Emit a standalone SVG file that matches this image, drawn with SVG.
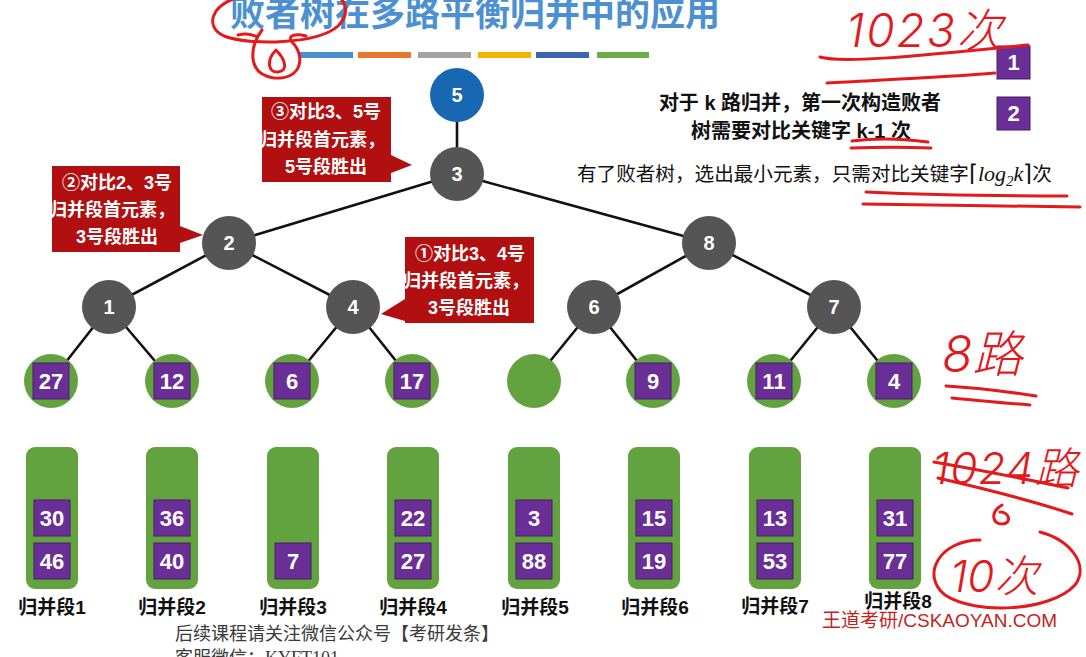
<svg xmlns="http://www.w3.org/2000/svg" width="1086" height="657" viewBox="0 0 1086 657">
<style>
.cj{font-family:"Liberation Sans","Noto Sans CJK SC",sans-serif;}
.num{font-family:"Liberation Sans",Arial,sans-serif;font-weight:bold;fill:#fff;text-anchor:middle;}
.inner{fill:#555555;}
.leaf{fill:#62a23f;}
.box{fill:#6a2e97;stroke:#4a1a6c;stroke-width:1;}
.seg{fill:#62a23f;}
.call{fill:#b10f10;}
.ct{font-family:"Liberation Sans","Noto Sans CJK SC",sans-serif;font-weight:bold;font-size:18px;fill:#fff;text-anchor:middle;}
.lbl{font-family:"Liberation Sans","Noto Sans CJK SC",sans-serif;font-weight:bold;font-size:19px;fill:#111;text-anchor:middle;}
.edge{stroke:#111;stroke-width:2.6;fill:none;}
.ink{stroke:#e3191c;stroke-width:3;fill:none;stroke-linecap:round;stroke-linejoin:round;}
.hand{font-family:"Inter","DejaVu Sans","Noto Sans CJK SC",sans-serif;font-weight:300;fill:#e3191c;font-style:italic;}
</style>
<rect width="1086" height="657" fill="#ffffff"/>

<!-- title -->
<text x="230" y="26" class="cj" font-size="35" font-weight="bold" fill="#4d90d2">败者树在多路平衡归并中的应用</text>
<g id="title-bars">
<rect x="300" y="52" width="53" height="6" fill="#4a8fd1"/>
<rect x="358" y="52" width="53" height="6" fill="#e8782b"/>
<rect x="418" y="52" width="53" height="6" fill="#a3a3a3"/>
<rect x="478" y="52" width="53" height="6" fill="#f4b400"/>
<rect x="536" y="52" width="53" height="6" fill="#3f64b4"/>
<rect x="597" y="52" width="52" height="6" fill="#6aae48"/>
</g>

<!-- connectors -->
<g id="connectors" class="edge">
<line x1="457" y1="95" x2="457" y2="174"/>
<line x1="457" y1="174" x2="229" y2="243"/>
<line x1="457" y1="174" x2="709" y2="243"/>
<line x1="229" y1="243" x2="109" y2="307"/>
<line x1="229" y1="243" x2="353" y2="307"/>
<line x1="709" y1="243" x2="594" y2="307"/>
<line x1="709" y1="243" x2="834" y2="307"/>
<line x1="109" y1="307" x2="51" y2="381"/>
<line x1="109" y1="307" x2="172" y2="381"/>
<line x1="353" y1="307" x2="292" y2="381"/>
<line x1="353" y1="307" x2="412" y2="381"/>
<line x1="594" y1="307" x2="534" y2="381"/>
<line x1="594" y1="307" x2="653" y2="381"/>
<line x1="834" y1="307" x2="774" y2="381"/>
<line x1="834" y1="307" x2="894" y2="381"/>
</g>

<!-- tree nodes -->
<g id="node-root5"><circle cx="457" cy="95" r="27" fill="#1767b2"/><text x="457" y="102" class="num" font-size="20">5</text></g>
<g id="node-3"><circle cx="457" cy="174" r="27" class="inner"/><text x="457" y="181" class="num" font-size="20">3</text></g>
<g id="node-2"><circle cx="229" cy="243" r="27" class="inner"/><text x="229" y="250" class="num" font-size="20">2</text></g>
<g id="node-8"><circle cx="709" cy="243" r="27" class="inner"/><text x="709" y="250" class="num" font-size="20">8</text></g>
<g id="node-1"><circle cx="109" cy="307" r="27" class="inner"/><text x="109" y="314" class="num" font-size="20">1</text></g>
<g id="node-4"><circle cx="353" cy="307" r="27" class="inner"/><text x="353" y="314" class="num" font-size="20">4</text></g>
<g id="node-6"><circle cx="594" cy="307" r="27" class="inner"/><text x="594" y="314" class="num" font-size="20">6</text></g>
<g id="node-7"><circle cx="834" cy="307" r="27" class="inner"/><text x="834" y="314" class="num" font-size="20">7</text></g>

<!-- leaves -->
<g id="leaf-1"><circle cx="51" cy="381" r="27" class="leaf"/><rect x="33" y="363" width="36" height="36" class="box"/><text x="51" y="389" class="num" font-size="22">27</text></g>
<g id="leaf-2"><circle cx="172" cy="381" r="27" class="leaf"/><rect x="154" y="363" width="36" height="36" class="box"/><text x="172" y="389" class="num" font-size="22">12</text></g>
<g id="leaf-3"><circle cx="292" cy="381" r="27" class="leaf"/><rect x="274" y="363" width="36" height="36" class="box"/><text x="292" y="389" class="num" font-size="22">6</text></g>
<g id="leaf-4"><circle cx="412" cy="381" r="27" class="leaf"/><rect x="394" y="363" width="36" height="36" class="box"/><text x="412" y="389" class="num" font-size="22">17</text></g>
<g id="leaf-5"><circle cx="534" cy="381" r="27" class="leaf"/></g>
<g id="leaf-6"><circle cx="653" cy="381" r="27" class="leaf"/><rect x="635" y="363" width="36" height="36" class="box"/><text x="653" y="389" class="num" font-size="22">9</text></g>
<g id="leaf-7"><circle cx="774" cy="381" r="27" class="leaf"/><rect x="756" y="363" width="36" height="36" class="box"/><text x="774" y="389" class="num" font-size="22">11</text></g>
<g id="leaf-8"><circle cx="894" cy="381" r="27" class="leaf"/><rect x="876" y="363" width="36" height="36" class="box"/><text x="894" y="389" class="num" font-size="22">4</text></g>

<!-- merge segments -->
<g id="seg-1"><rect x="26" y="447" width="52" height="142" rx="9" class="seg"/>
<rect x="34" y="500" width="36" height="36" class="box"/><text x="52" y="526" class="num" font-size="22">30</text>
<rect x="34" y="543" width="36" height="36" class="box"/><text x="52" y="569" class="num" font-size="22">46</text>
<text x="52" y="614" class="lbl">归并段1</text></g>
<g id="seg-2"><rect x="146" y="447" width="52" height="142" rx="9" class="seg"/>
<rect x="154" y="500" width="36" height="36" class="box"/><text x="172" y="526" class="num" font-size="22">36</text>
<rect x="154" y="543" width="36" height="36" class="box"/><text x="172" y="569" class="num" font-size="22">40</text>
<text x="172" y="614" class="lbl">归并段2</text></g>
<g id="seg-3"><rect x="267" y="447" width="52" height="142" rx="9" class="seg"/>
<rect x="275" y="543" width="36" height="36" class="box"/><text x="293" y="569" class="num" font-size="22">7</text>
<text x="293" y="614" class="lbl">归并段3</text></g>
<g id="seg-4"><rect x="387" y="447" width="52" height="142" rx="9" class="seg"/>
<rect x="395" y="500" width="36" height="36" class="box"/><text x="413" y="526" class="num" font-size="22">22</text>
<rect x="395" y="543" width="36" height="36" class="box"/><text x="413" y="569" class="num" font-size="22">27</text>
<text x="413" y="614" class="lbl">归并段4</text></g>
<g id="seg-5"><rect x="508" y="447" width="52" height="142" rx="9" class="seg"/>
<rect x="516" y="500" width="36" height="36" class="box"/><text x="534" y="526" class="num" font-size="22">3</text>
<rect x="516" y="543" width="36" height="36" class="box"/><text x="534" y="569" class="num" font-size="22">88</text>
<text x="535" y="614" class="lbl">归并段5</text></g>
<g id="seg-6"><rect x="628" y="447" width="52" height="142" rx="9" class="seg"/>
<rect x="636" y="500" width="36" height="36" class="box"/><text x="654" y="526" class="num" font-size="22">15</text>
<rect x="636" y="543" width="36" height="36" class="box"/><text x="654" y="569" class="num" font-size="22">19</text>
<text x="655" y="614" class="lbl">归并段6</text></g>
<g id="seg-7"><rect x="749" y="447" width="52" height="142" rx="9" class="seg"/>
<rect x="757" y="500" width="36" height="36" class="box"/><text x="775" y="526" class="num" font-size="22">13</text>
<rect x="757" y="543" width="36" height="36" class="box"/><text x="775" y="569" class="num" font-size="22">53</text>
<text x="775" y="613" class="lbl">归并段7</text></g>
<g id="seg-8"><rect x="869" y="447" width="52" height="142" rx="9" class="seg"/>
<rect x="877" y="500" width="36" height="36" class="box"/><text x="895" y="526" class="num" font-size="22">31</text>
<rect x="877" y="543" width="36" height="36" class="box"/><text x="895" y="569" class="num" font-size="22">77</text>
<text x="898" y="608" class="lbl">归并段8</text></g>

<!-- callouts -->
<g id="callout-3">
<path d="M262 97 H391 V155 L412 165 L391 173 V182 H262 Z" class="call"/>
<text x="326" y="118" class="ct">③对比3、5号</text>
<text x="322" y="146" class="ct">归并段首元素，</text>
<text x="326" y="173" class="ct">5号段胜出</text>
</g>
<g id="callout-2">
<path d="M52 166 H180 V226 L203 235 L180 243 V252 H52 Z" class="call"/>
<text x="117" y="189" class="ct">②对比2、3号</text>
<text x="112" y="216" class="ct">归并段首元素，</text>
<text x="117" y="243" class="ct">3号段胜出</text>
</g>
<g id="callout-1">
<path d="M405 237 H534 V323 H405 V321 L381 314 L405 299 Z" class="call"/>
<text x="470" y="260" class="ct">①对比3、4号</text>
<text x="466" y="287" class="ct">归并段首元素，</text>
<text x="469" y="314" class="ct">3号段胜出</text>
</g>

<!-- right-side notes -->
<g id="notes" class="cj" font-weight="bold" fill="#111">
<text x="800" y="110" font-size="20" text-anchor="middle">对于 k 路归并，第一次构造败者</text>
<text x="801" y="138" font-size="20" text-anchor="middle">树需要对比关键字 k-1 次</text>
<text x="577" y="181" font-size="19.6" font-weight="normal">有了败者树，选出最小元素，只需对比关键字<tspan font-family="Liberation Serif,serif" font-size="23">⌈</tspan><tspan font-family="Liberation Serif,serif" font-style="italic" font-size="22">log</tspan><tspan font-family="Liberation Serif,serif" font-style="italic" font-size="15" dy="5">2</tspan><tspan font-family="Liberation Serif,serif" font-style="italic" font-size="22" dy="-5">k</tspan><tspan font-family="Liberation Serif,serif" font-size="23">⌉</tspan>次</text>
</g>
<g id="badge-1"><rect x="997" y="46" width="33" height="33" class="box"/><text x="1013.5" y="70" class="num" font-size="22">1</text></g>
<g id="badge-2"><rect x="997" y="97" width="33" height="33" class="box"/><text x="1013.5" y="121" class="num" font-size="22">2</text></g>

<!-- footer -->
<text x="175" y="640" font-family="Liberation Serif,Noto Sans CJK SC,serif" font-size="18" fill="#3a3a3a">后续课程请关注微信公众号【考研发条】</text>
<text x="175" y="664" font-family="Liberation Serif,Noto Sans CJK SC,serif" font-size="18" fill="#3a3a3a">客服微信：KYFT101</text>
<text x="822" y="627" font-family="Liberation Sans,Noto Sans CJK SC,sans-serif" font-size="19" fill="#c4231c">王道考研/CSKAOYAN.COM</text>

<!-- handwritten annotations -->
<g id="ink">
<path class="ink" d="M236 -2 C212 6 204 26 224 36 C250 46 318 44 338 26 C350 14 346 2 338 -4"/>
<path class="ink" d="M238 35 C258 30 254 44 262 30 M262 30 C250 46 246 74 274 78 C302 80 306 56 292 42 C286 34 298 34 306 36"/>
<path class="ink" d="M276 50 C266 60 268 73 278 72 C289 71 285 59 276 50 Z"/>
<path class="ink" d="M820 57 C840 63 900 58 1028 45"/>
<path class="ink" d="M827 83 C880 80 950 77 995 73"/>
<path class="ink" d="M852 141 C875 138 905 139 928 142"/>
<path class="ink" d="M851 148 C880 147 905 147 931 148"/>
<path class="ink" d="M866 192 C930 195 1000 196 1067 196"/>
<path class="ink" d="M863 204 C930 205 1010 206 1080 207"/>
<path class="ink" d="M946 386 C980 388 1010 392 1036 396"/>
<path class="ink" d="M952 398 C980 401 1005 403 1030 405"/>
<path class="ink" d="M934 462 C980 470 1020 478 1068 488"/>
<path class="ink" d="M938 478 C990 490 1030 500 1072 514"/>
<path class="ink" d="M1002 505 C990 512 992 524 1002 524 C1012 524 1010 512 1000 512"/>
<path class="ink" d="M980 540 C940 540 920 575 945 595 C975 615 1050 612 1075 585 C1090 565 1070 540 1040 532"/>
<text class="hand" x="846" y="47" font-size="46" letter-spacing="2">1023次</text>
<text class="hand" x="942" y="372" font-size="50">8路</text>
<text class="hand" x="932" y="484" font-size="44" letter-spacing="1">1024路</text>
<text class="hand" x="950" y="592" font-size="44">10次</text>
</g>
</svg>
